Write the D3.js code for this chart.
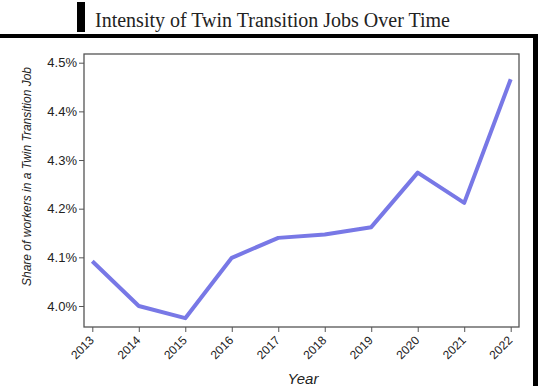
<!DOCTYPE html>
<html>
<head>
<meta charset="utf-8">
<script src="https://cdn.jsdelivr.net/npm/d3@7"></script>
<style>
  body { margin: 0; background: #fff; }
  svg { display: block; }
  .tick text { font-family: "Liberation Sans", Arial, sans-serif; font-size: 13px; fill: #222; }
</style>
</head>
<body>
<div id="chart"></div>
<script>
// data
var years = [2013, 2014, 2015, 2016, 2017, 2018, 2019, 2020, 2021, 2022]
var share = [4.092, 4.000, 3.975, 4.099, 4.140, 4.147, 4.162, 4.274, 4.212, 4.466]
var yTicks = [4.0, 4.1, 4.2, 4.3, 4.4, 4.5]

var W = 538, H = 386
var plot = {left: 84, right: 519, top: 54, bottom: 327}

var svg = d3.select('#chart').append('svg')
  .attr('width', W).attr('height', H)

// title with the black marker bar
svg.append('rect')
  .attr('x', 77).attr('y', 2).attr('width', 8).attr('height', 30)
  .attr('fill', '#000')
svg.append('text')
  .attr('x', 95).attr('y', 27)
  .style('font-family', '"Liberation Serif", "Times New Roman", serif')
  .style('font-size', '20px')
  .attr('fill', '#222')
  .text('Intensity of Twin Transition Jobs Over Time')

// thick frame: top and right side
svg.append('rect')
  .attr('x', 0).attr('y', 34).attr('width', W).attr('height', 4)
  .attr('fill', '#000')
svg.append('rect')
  .attr('x', 533).attr('y', 34).attr('width', 5).attr('height', H - 34)
  .attr('fill', '#000')

var x = d3.scaleLinear()
  .domain([2013, 2022])
  .range([92.3, 510.7])

var y = d3.scaleLinear()
  .domain([4.0, 4.5])
  .range([306, 62.7])

// plot box
svg.append('rect')
  .attr('x', plot.left).attr('y', plot.top)
  .attr('width', plot.right - plot.left).attr('height', plot.bottom - plot.top)
  .attr('fill', 'none').attr('stroke', '#555').attr('stroke-width', 1.3)

// axes
var yAxis = svg.append('g')
  .attr('transform', 'translate(' + plot.left + ',0)')
  .call(d3.axisLeft(y).tickValues(yTicks).tickSize(5).tickPadding(2)
    .tickFormat(function(d){ return d.toFixed(1) + '%' }))
yAxis.select('.domain').remove()
yAxis.selectAll('.tick line').attr('stroke', '#555')

var xAxis = svg.append('g')
  .attr('transform', 'translate(0,' + plot.bottom + ')')
  .call(d3.axisBottom(x).tickValues(years).tickSize(5).tickFormat(d3.format('d')))
xAxis.select('.domain').remove()
xAxis.selectAll('.tick line').attr('stroke', '#555')
xAxis.selectAll('.tick text')
  .attr('text-anchor', 'end')
  .attr('dy', null)
  .style('font-size', '12px')
  .attr('transform', 'translate(2,14) rotate(-45)')
  .attr('y', 0).attr('x', 0)

// line
var line = d3.line()
  .x(function(d, i){ return x(years[i]) })
  .y(function(d){ return y(d) })

svg.append('path')
  .datum(share)
  .attr('d', line)
  .attr('fill', 'none')
  .attr('stroke', '#7878e6')
  .attr('stroke-width', 4)
  .attr('stroke-linejoin', 'round')

// axis titles
svg.append('text')
  .attr('x', 303).attr('y', 384)
  .attr('text-anchor', 'middle')
  .style('font-family', '"Liberation Sans", Arial, sans-serif')
  .style('font-size', '15px').style('font-style', 'italic')
  .attr('fill', '#222')
  .text('Year')

svg.append('text')
  .attr('transform', 'translate(31,176.5) rotate(-90)')
  .attr('text-anchor', 'middle')
  .style('font-family', '"Liberation Sans", Arial, sans-serif')
  .style('font-size', '12px').style('font-style', 'italic')
  .attr('fill', '#222')
  .text('Share of workers in a Twin Transition Job')
</script>
</body>
</html>
